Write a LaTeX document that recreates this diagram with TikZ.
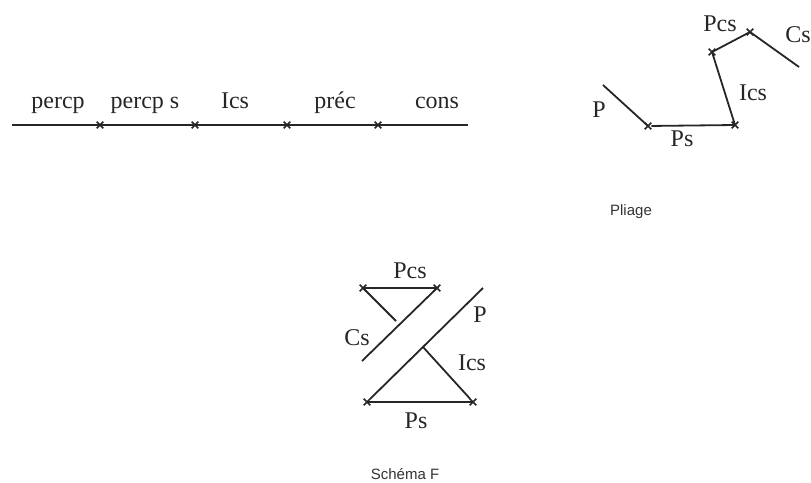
\documentclass[tikz,border=0pt]{standalone}
\usepackage{fontspec}
\setmainfont{Liberation Serif}
\newfontfamily\legende{Liberation Sans}
\usetikzlibrary{shapes.misc}
\begin{document}
\begin{tikzpicture}[x=1pt,y=-1pt,
    trait/.style={line width=1.8pt,black!85},
    croix/.style={cross out,draw,black!85,line width=1.6pt,minimum size=5pt,inner sep=0pt},
    mot/.style={anchor=base,font=\fontsize{24}{28}\selectfont,inner sep=0pt,black!85},
    titre/.style={anchor=base,font=\legende\fontsize{15}{18}\selectfont,inner sep=0pt,black!80}]
        \useasboundingbox (0,0) rectangle (811,482);
        % ligne du temps
        \coordinate (t0) at (12,125);
        \coordinate (t5) at (468,125);
        \node [croix] (t1) at (100,125) {};
        \node [croix] (t2) at (195,125) {};
        \node [croix] (t3) at (287,125) {};
        \node [croix] (t4) at (378,125) {};
        \draw [line width=1.4pt,black!85] (t0)--(t1.center)--(t2.center)--(t3.center)--(t4.center)--(t5);
        \node [mot] (percp) at (58,108) {percp};
        \node [mot] (percps) at (145,108) {percp s};
        \node [mot] (ics) at (235,108) {Ics};
        \node [mot] (prec) at (335,108) {préc};
        \node [mot] (cons) at (437,108) {cons};
        % pliage
        \coordinate (p0) at (603,85);
        \node [croix] (p1) at (648,126) {};
        \node [croix] (p2) at (735,125) {};
        \node [croix] (p3) at (712,52) {};
        \node [croix] (p4) at (750,32) {};
        \coordinate (p5) at (799,67);
        \draw [trait] (p0)--(p1.center);
        \draw [trait] (p1)--(p2.center)--(p3.center)--(p4.center)--(p5);
        \node [mot] (lp) at (599,117) {P};
        \node [mot] (lps) at (682,146) {Ps};
        \node [mot] (lics) at (753,100) {Ics};
        \node [mot] (lpcs) at (720,31) {Pcs};
        \node [mot] (lcs) at (798,42) {Cs};
        \node [titre] (pliage) at (631,215) {Pliage};
        % schema F
        \node [croix] (f1) at (363,288) {};
        \node [croix] (f2) at (437,288) {};
        \node [croix] (f3) at (367,402) {};
        \node [croix] (f4) at (473,402) {};
        \coordinate (f5) at (362,361);
        \coordinate (f6) at (396,321);
        \coordinate (f7) at (483,288);
        \coordinate (f8) at (423,347);
        \draw [trait] (f1.center)--(f2.center)--(f5);
        \draw [trait] (f1.center)--(f6);
        \draw [trait] (f7)--(f3);
        \draw [trait] (f3.center)--(f4.center);
        \draw [trait] (f8)--(f4);
        \node [mot] (fpcs) at (410,278) {Pcs};
        \node [mot] (fp) at (480,322) {P};
        \node [mot] (fcs) at (357,345) {Cs};
        \node [mot] (fics) at (472,370) {Ics};
        \node [mot] (fps) at (416,428) {Ps};
        \node [titre] (schema) at (405,479) {Schéma F};
\end{tikzpicture}
\end{document}
